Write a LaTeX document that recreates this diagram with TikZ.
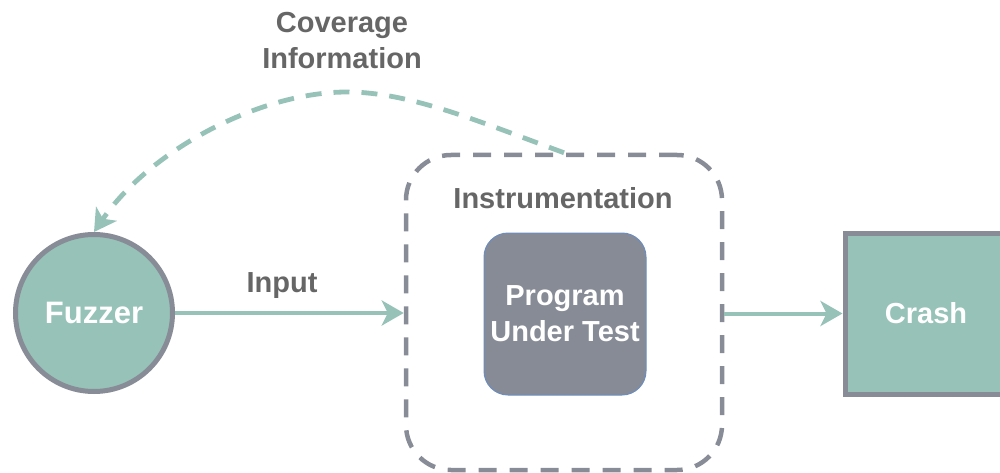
\documentclass[tikz,border=0pt]{standalone}
\usepackage{fontspec}
\setmainfont{Liberation Sans}
\usetikzlibrary{arrows.meta}

\definecolor{teal}{HTML}{97C2B8}
\definecolor{edgegray}{HTML}{878C96}
\definecolor{boxgray}{HTML}{868B96}
\definecolor{boxblue}{HTML}{6C8EBF}
\definecolor{labelgray}{HTML}{666666}

\tikzset{
  lbl/.style={font=\fontsize{29}{36}\selectfont\bfseries, inner sep=0pt},
  labeltext/.style={lbl, text=labelgray, align=center},
  whitetext/.style={lbl, text=white, align=center},
  tipstyle/.style={-{Stealth[length=22pt,width=25pt,inset=6pt]}},
  flow/.style={draw=teal, line width=4pt, tipstyle},
  feedback/.style={flow, line width=4.8pt, dash pattern=on 16pt off 12pt},
}

\begin{document}
\begin{tikzpicture}[x=1pt, y=-1pt]
  \useasboundingbox (0,0) rectangle (1000,473);

  % fuzzer
  \node[circle, fill=teal, draw=edgegray, line width=5pt, minimum size=157pt,
        whitetext, font=\fontsize{31}{36}\selectfont\bfseries] (fuzzer) at (94,313) {Fuzzer};

  % instrumented region around the program
  \node[draw=edgegray, line width=4.5pt, rounded corners=45pt,
        dash pattern=on 18pt off 13pt, minimum width=316pt, minimum height=315pt,
        inner sep=0pt] (instr) at (564,312.5) {};
  \node[labeltext, anchor=base] (instrlabel) at (563,208) {Instrumentation};

  % program under test
  \node[fill=boxgray, draw=boxblue, line width=1pt, rounded corners=24pt,
        minimum width=162pt, minimum height=162pt, whitetext] (put) at (565,314)
        {Program\\Under Test};

  % crash
  \node[rectangle, fill=teal, draw=edgegray, line width=5pt,
        minimum width=167pt, minimum height=161pt, inner sep=0pt] (crash) at (928.5,313.5) {};
  \node[whitetext] (crashlabel) at (926,313) {Crash};

  % input flow
  \draw[flow] (fuzzer.east) -- (fuzzer.east -| instr.west);
  \node[labeltext, anchor=base] (inputlabel) at (282,292) {Input};

  % to crash
  \draw[flow] (instr.east |- crash.west) -- (crash.west);

  % coverage feedback
  \coordinate (covpeak) at (347,92);
  \draw[feedback] (instr.north) .. controls (480,122) and (410,92) .. (covpeak)
                  .. controls (260,92) and (150,150) .. (fuzzer.north);
  \node[labeltext] (covlabel) at (342,40.5) {Coverage\\Information};
\end{tikzpicture}
\end{document}
